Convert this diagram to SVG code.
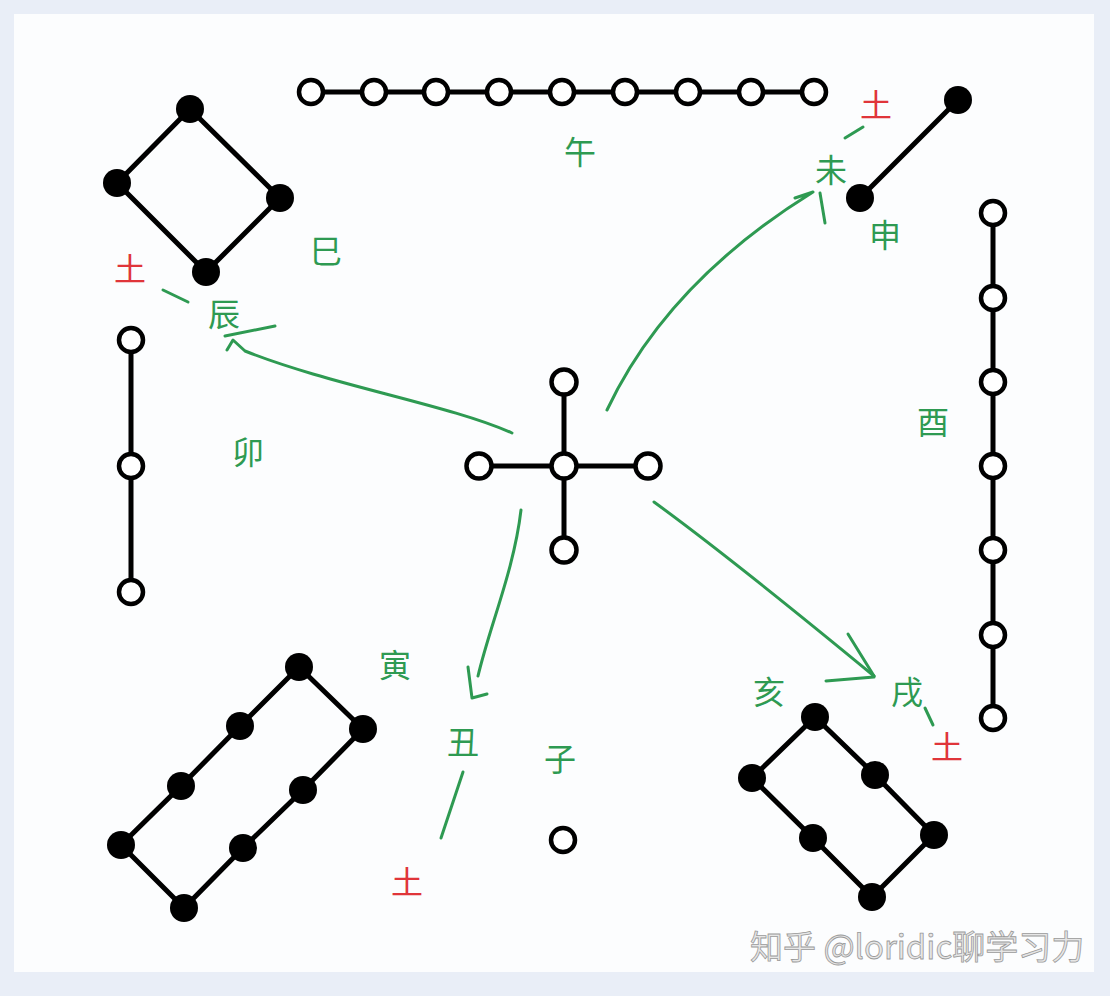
<svg xmlns="http://www.w3.org/2000/svg" width="1110" height="996" viewBox="0 0 1110 996">
<defs>
<style>
.ln{stroke:#000;stroke-width:5;fill:none;stroke-linecap:round;stroke-linejoin:round}
.oc{fill:#fff;stroke:#000;stroke-width:4.5}
.fc{fill:#000}
.gr{stroke:#2e9a52;stroke-width:3;fill:none;stroke-linecap:round;stroke-linejoin:round}
.lg{font-family:"Noto Sans CJK SC","Noto Sans",sans-serif;font-size:32px;fill:#2e9a52;text-anchor:middle;dominant-baseline:central}
.lr{font-family:"Noto Sans CJK SC","Noto Sans",sans-serif;font-size:32px;fill:#e0353a;text-anchor:middle;dominant-baseline:central}
.wm{font-family:"Noto Sans CJK SC","Noto Sans",sans-serif;font-size:33px;fill:#e6e6e6;stroke:#9a9a9a;stroke-width:0.8}
</style>
</defs>
<rect x="0" y="0" width="1110" height="996" fill="#e9eef7"/>
<rect x="14" y="14" width="1080" height="958" fill="#fcfdfe"/>

<g id="connectors">
<path class="gr" d="M512 433 C450 405 330 385 245 351 L233 340 L227 350"/>
<path class="gr" d="M225 336 L275 326"/>
<path class="gr" d="M163 290 L188 302"/>
<path class="gr" d="M607 410 C640 340 700 262 813 192 L795 198"/>
<path class="gr" d="M820 193 L825 223"/>
<path class="gr" d="M845 138 L863 127"/>
<path class="gr" d="M654 502 C720 550 800 615 874 676"/>
<path class="gr" d="M848 634 L874 676"/>
<path class="gr" d="M826 681 L874 677"/>
<path class="gr" d="M925 708 L933 725"/>
<path class="gr" d="M521 510 C514 570 490 625 478 676"/>
<path class="gr" d="M468 667 L472 698 L487 694"/>
<path class="gr" d="M463 772 L441 838"/>
</g>

<g id="node-wu">
<line class="ln" x1="311" y1="92" x2="814" y2="92"/>
<circle class="oc" cx="311" cy="92" r="12"/>
<circle class="oc" cx="374" cy="92" r="12"/>
<circle class="oc" cx="436" cy="92" r="12"/>
<circle class="oc" cx="499" cy="92" r="12"/>
<circle class="oc" cx="562" cy="92" r="12"/>
<circle class="oc" cx="625" cy="92" r="12"/>
<circle class="oc" cx="688" cy="92" r="12"/>
<circle class="oc" cx="751" cy="92" r="12"/>
<circle class="oc" cx="814" cy="92" r="12"/>
<text class="lg" x="580" y="150">午</text>
</g>

<g id="node-si">
<polygon class="ln" points="190,109 280,198 206,272 117,183"/>
<circle class="fc" cx="190" cy="109" r="14"/>
<circle class="fc" cx="117" cy="183" r="14"/>
<circle class="fc" cx="280" cy="198" r="14"/>
<circle class="fc" cx="206" cy="272" r="14"/>
<text class="lg" x="326" y="249">巳</text>
<text class="lg" x="224" y="312">辰</text>
<text class="lr" x="130" y="267">土</text>
</g>

<g id="node-mao">
<line class="ln" x1="131" y1="340" x2="131" y2="592"/>
<circle class="oc" cx="131" cy="340" r="12"/>
<circle class="oc" cx="131" cy="466" r="12"/>
<circle class="oc" cx="131" cy="592" r="12"/>
<text class="lg" x="248" y="450">卯</text>
</g>

<g id="node-shen">
<line class="ln" x1="958" y1="100" x2="860" y2="198"/>
<circle class="fc" cx="958" cy="100" r="14"/>
<circle class="fc" cx="860" cy="198" r="14"/>
<text class="lg" x="831" y="168">未</text>
<text class="lr" x="876" y="103">土</text>
<text class="lg" x="885" y="233">申</text>
</g>

<g id="node-you">
<line class="ln" x1="993" y1="213" x2="993" y2="718"/>
<circle class="oc" cx="993" cy="213" r="12"/>
<circle class="oc" cx="993" cy="298" r="12"/>
<circle class="oc" cx="993" cy="382" r="12"/>
<circle class="oc" cx="993" cy="466" r="12"/>
<circle class="oc" cx="993" cy="550" r="12"/>
<circle class="oc" cx="993" cy="635" r="12"/>
<circle class="oc" cx="993" cy="718" r="12"/>
<text class="lg" x="933" y="420">酉</text>
</g>

<g id="node-center">
<line class="ln" x1="479" y1="466" x2="648" y2="466"/>
<line class="ln" x1="564" y1="382" x2="564" y2="550"/>
<circle class="oc" cx="564" cy="382" r="12.5"/>
<circle class="oc" cx="479" cy="466" r="12.5"/>
<circle class="oc" cx="564" cy="466" r="12.5"/>
<circle class="oc" cx="648" cy="466" r="12.5"/>
<circle class="oc" cx="564" cy="550" r="12.5"/>
</g>

<g id="node-yin">
<polygon class="ln" points="299,667 240,726 181,786 121,845 184,908 243,848 303,790 363,729"/>
<circle class="fc" cx="299" cy="667" r="14"/>
<circle class="fc" cx="240" cy="726" r="14"/>
<circle class="fc" cx="181" cy="786" r="14"/>
<circle class="fc" cx="121" cy="845" r="14"/>
<circle class="fc" cx="184" cy="908" r="14"/>
<circle class="fc" cx="243" cy="848" r="14"/>
<circle class="fc" cx="303" cy="790" r="14"/>
<circle class="fc" cx="363" cy="729" r="14"/>
<text class="lg" x="395" y="663">寅</text>
<text class="lg" x="463" y="740">丑</text>
<text class="lr" x="407" y="880">土</text>
</g>

<g id="node-zi">
<circle class="oc" cx="563" cy="840" r="12"/>
<text class="lg" x="560" y="757">子</text>
</g>

<g id="node-hai">
<polygon class="ln" points="815,717 752,778 813,838 872,897 934,835 875,775"/>
<circle class="fc" cx="815" cy="717" r="14"/>
<circle class="fc" cx="752" cy="778" r="14"/>
<circle class="fc" cx="813" cy="838" r="14"/>
<circle class="fc" cx="872" cy="897" r="14"/>
<circle class="fc" cx="934" cy="835" r="14"/>
<circle class="fc" cx="875" cy="775" r="14"/>
<text class="lg" x="769" y="690">亥</text>
<text class="lg" x="907" y="690">戌</text>
<text class="lr" x="947" y="745">土</text>
</g>

<text class="wm" x="750" y="959">知乎 @loridic聊学习力</text>
</svg>
